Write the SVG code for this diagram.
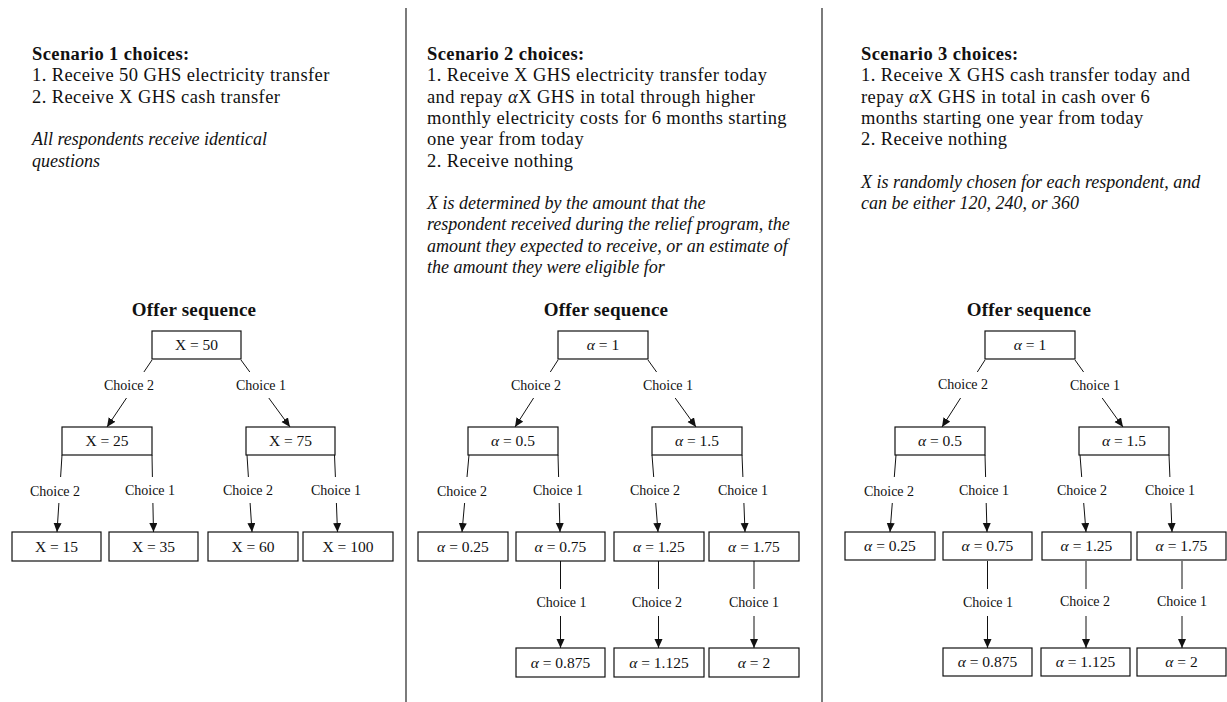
<svg xmlns="http://www.w3.org/2000/svg" width="1227" height="702" viewBox="0 0 1227 702">
<style>
  .t { font-family: "Liberation Serif", "Times New Roman", serif; fill: #111; }
  .h { font-size: 18.5px; font-weight: bold; letter-spacing: 0.4px; }
  .r { font-size: 18.5px; letter-spacing: 0.4px; }
  .it { font-size: 18px; font-style: italic; }
  .ttl { font-size: 19px; font-weight: bold; letter-spacing: 0.2px; text-anchor: middle; }
  .box rect { fill: #fff; stroke: #111; stroke-width: 1.2; }
  .box text { font-family: "Liberation Serif", "Times New Roman", serif; font-size: 15.5px; fill: #111; text-anchor: middle; }
  .g { font-style: italic; }
  .edge line { stroke: #111; stroke-width: 1; fill: none; }
  .edge line.a { marker-end: url(#arr); }
  .lbl { font-family: "Liberation Serif", "Times New Roman", serif; font-size: 14px; fill: #111; text-anchor: middle; }
  .div { stroke: #444; stroke-width: 1.4; }
</style>
<defs>
  <marker id="arr" markerUnits="userSpaceOnUse" markerWidth="10" markerHeight="9" refX="9" refY="4" orient="auto">
    <path d="M0,0 L9,4 L0,8 z" fill="#111"/>
  </marker>
</defs>
<rect x="0" y="0" width="1227" height="702" fill="#fff"/>

<g id="dividers">
  <line class="div" x1="406" y1="8" x2="406" y2="702"/>
  <line class="div" x1="822" y1="8" x2="822" y2="702"/>
</g>

<g id="panel1-text" class="t">
  <text class="h" x="32" y="60">Scenario 1 choices:</text>
  <text class="r" x="32" y="81.3">1. Receive 50 GHS electricity transfer</text>
  <text class="r" x="32" y="102.6">2. Receive X GHS cash transfer</text>
  <text class="it" x="32" y="145.2">All respondents receive identical</text>
  <text class="it" x="32" y="166.5">questions</text>
  <text class="ttl" x="194" y="316">Offer sequence</text>
</g>

<g id="panel2-text" class="t">
  <text class="h" x="427" y="60">Scenario 2 choices:</text>
  <text class="r" x="427" y="81.3">1. Receive X GHS electricity transfer today</text>
  <text class="r" x="427" y="102.6">and repay <tspan class="g">α</tspan>X GHS in total through higher</text>
  <text class="r" x="427" y="123.9">monthly electricity costs for 6 months starting</text>
  <text class="r" x="427" y="145.2">one year from today</text>
  <text class="r" x="427" y="166.5">2. Receive nothing</text>
  <text class="it" x="427" y="209.1">X is determined by the amount that the</text>
  <text class="it" x="427" y="230.4">respondent received during the relief program, the</text>
  <text class="it" x="427" y="251.7">amount they expected to receive, or an estimate of</text>
  <text class="it" x="427" y="273">the amount they were eligible for</text>
  <text class="ttl" x="606" y="316">Offer sequence</text>
</g>

<g id="panel3-text" class="t">
  <text class="h" x="861" y="60">Scenario 3 choices:</text>
  <text class="r" x="861" y="81.3">1. Receive X GHS cash transfer today and</text>
  <text class="r" x="861" y="102.6">repay <tspan class="g">α</tspan>X GHS in total in cash over 6</text>
  <text class="r" x="861" y="123.9">months starting one year from today</text>
  <text class="r" x="861" y="145.2">2. Receive nothing</text>
  <text class="it" x="861" y="187.8">X is randomly chosen for each respondent, and</text>
  <text class="it" x="861" y="209.1">can be either 120, 240, or 360</text>
  <text class="ttl" x="1029" y="316">Offer sequence</text>
</g>

<g id="connectors" class="edge">
  <!-- panel 1 -->
  <line x1="152" y1="360" x2="143.9" y2="372"/><line class="a" x1="126.5" y1="398" x2="107" y2="427"/>
  <line x1="241" y1="360" x2="249.8" y2="372"/><line class="a" x1="268.8" y1="398" x2="290" y2="427"/>
  <line x1="62" y1="455" x2="60.6" y2="477"/><line class="a" x1="58.9" y1="503" x2="57" y2="532"/>
  <line x1="152" y1="455" x2="152.4" y2="477"/><line class="a" x1="152.9" y1="503" x2="153.5" y2="532"/>
  <line x1="247" y1="455" x2="248.4" y2="477"/><line class="a" x1="250.1" y1="503" x2="252" y2="532"/>
  <line x1="334.5" y1="455" x2="335.4" y2="477"/><line class="a" x1="336.4" y1="503" x2="337.5" y2="532"/>
  <!-- panel 2 -->
  <line x1="558" y1="360" x2="550.3" y2="372"/><line class="a" x1="533.6" y1="398" x2="515" y2="427"/>
  <line x1="648" y1="360" x2="656.6" y2="372"/><line class="a" x1="675.2" y1="398" x2="696" y2="427"/>
  <line x1="469" y1="455" x2="467" y2="477"/><line class="a" x1="464.6" y1="503" x2="462" y2="532"/>
  <line x1="558" y1="455" x2="558.6" y2="477"/><line class="a" x1="559.2" y1="503" x2="560" y2="532"/>
  <line x1="652" y1="455" x2="653.7" y2="477"/><line class="a" x1="655.7" y1="503" x2="658" y2="532"/>
  <line x1="742" y1="455" x2="742.9" y2="477"/><line class="a" x1="743.9" y1="503" x2="745" y2="532"/>
  <line x1="560.5" y1="561" x2="560.5" y2="589"/><line class="a" x1="560.5" y1="616" x2="560.5" y2="648"/>
  <line x1="658.5" y1="561" x2="658.5" y2="589"/><line class="a" x1="658.5" y1="616" x2="658.5" y2="648"/>
  <line x1="754" y1="561" x2="754" y2="589"/><line class="a" x1="754" y1="616" x2="754" y2="648"/>
  <!-- panel 3 -->
  <line x1="985" y1="360" x2="977.3" y2="372"/><line class="a" x1="960.6" y1="398" x2="942" y2="427"/>
  <line x1="1075" y1="360" x2="1083.6" y2="372"/><line class="a" x1="1102.2" y1="398" x2="1123" y2="427"/>
  <line x1="896" y1="455" x2="894.3" y2="477"/><line class="a" x1="892.3" y1="503" x2="890" y2="532"/>
  <line x1="985" y1="455" x2="985.6" y2="477"/><line class="a" x1="986.2" y1="503" x2="987" y2="532"/>
  <line x1="1080" y1="455" x2="1081.7" y2="477"/><line class="a" x1="1083.7" y1="503" x2="1086" y2="532"/>
  <line x1="1169" y1="455" x2="1169.9" y2="477"/><line class="a" x1="1170.9" y1="503" x2="1172" y2="532"/>
  <line x1="987.5" y1="561" x2="987.5" y2="589"/><line class="a" x1="987.5" y1="616" x2="987.5" y2="648"/>
  <line x1="1086" y1="561" x2="1086" y2="589"/><line class="a" x1="1086" y1="616" x2="1086" y2="648"/>
  <line x1="1182" y1="561" x2="1182" y2="589"/><line class="a" x1="1182" y1="616" x2="1182" y2="648"/>

  <g id="connector-labels">
    <text class="lbl" x="129" y="389.5">Choice 2</text>
    <text class="lbl" x="261" y="389.5">Choice 1</text>
    <text class="lbl" x="55" y="495.5">Choice 2</text>
    <text class="lbl" x="150" y="495">Choice 1</text>
    <text class="lbl" x="248" y="495">Choice 2</text>
    <text class="lbl" x="336" y="495">Choice 1</text>

    <text class="lbl" x="536" y="390">Choice 2</text>
    <text class="lbl" x="668" y="390">Choice 1</text>
    <text class="lbl" x="462" y="496">Choice 2</text>
    <text class="lbl" x="558" y="495">Choice 1</text>
    <text class="lbl" x="655" y="495">Choice 2</text>
    <text class="lbl" x="743" y="495">Choice 1</text>
    <text class="lbl" x="561.5" y="607">Choice 1</text>
    <text class="lbl" x="657" y="607">Choice 2</text>
    <text class="lbl" x="754" y="607">Choice 1</text>

    <text class="lbl" x="963" y="389">Choice 2</text>
    <text class="lbl" x="1095" y="390">Choice 1</text>
    <text class="lbl" x="889" y="496">Choice 2</text>
    <text class="lbl" x="984" y="495">Choice 1</text>
    <text class="lbl" x="1082" y="495">Choice 2</text>
    <text class="lbl" x="1170" y="495">Choice 1</text>
    <text class="lbl" x="988" y="607">Choice 1</text>
    <text class="lbl" x="1085" y="606">Choice 2</text>
    <text class="lbl" x="1182" y="606">Choice 1</text>
  </g>
</g>

<!-- panel 1 nodes -->
<g id="p1-x50" class="box"><rect x="152" y="331" width="89" height="28"/><text x="196.5" y="350">X = 50</text></g>
<g id="p1-x25" class="box"><rect x="62" y="427" width="90" height="28"/><text x="107" y="446">X = 25</text></g>
<g id="p1-x75" class="box"><rect x="246" y="427" width="89" height="28"/><text x="290.5" y="446">X = 75</text></g>
<g id="p1-x15" class="box"><rect x="12" y="532" width="89" height="29"/><text x="56.5" y="551.5">X = 15</text></g>
<g id="p1-x35" class="box"><rect x="109" y="532" width="89" height="29"/><text x="153.5" y="551.5">X = 35</text></g>
<g id="p1-x60" class="box"><rect x="208" y="532" width="90" height="29"/><text x="253" y="551.5">X = 60</text></g>
<g id="p1-x100" class="box"><rect x="303" y="532" width="90" height="29"/><text x="348" y="551.5">X = 100</text></g>

<!-- panel 2 nodes -->
<g id="p2-a1" class="box"><rect x="558" y="331" width="90" height="28"/><text x="603" y="350"><tspan class="g">α</tspan> = 1</text></g>
<g id="p2-a05" class="box"><rect x="468" y="427" width="90" height="28"/><text x="513" y="446"><tspan class="g">α</tspan> = 0.5</text></g>
<g id="p2-a15" class="box"><rect x="652" y="427" width="90" height="28"/><text x="697" y="446"><tspan class="g">α</tspan> = 1.5</text></g>
<g id="p2-a025" class="box"><rect x="418" y="532" width="90" height="29"/><text x="463" y="551.5"><tspan class="g">α</tspan> = 0.25</text></g>
<g id="p2-a075" class="box"><rect x="516" y="532" width="89" height="29"/><text x="560.5" y="551.5"><tspan class="g">α</tspan> = 0.75</text></g>
<g id="p2-a125" class="box"><rect x="614" y="532" width="90" height="29"/><text x="659" y="551.5"><tspan class="g">α</tspan> = 1.25</text></g>
<g id="p2-a175" class="box"><rect x="709" y="532" width="90" height="29"/><text x="754" y="551.5"><tspan class="g">α</tspan> = 1.75</text></g>
<g id="p2-a0875" class="box"><rect x="516" y="648" width="89" height="29"/><text x="560.5" y="667.5"><tspan class="g">α</tspan> = 0.875</text></g>
<g id="p2-a1125" class="box"><rect x="614" y="648" width="90" height="29"/><text x="659" y="667.5"><tspan class="g">α</tspan> = 1.125</text></g>
<g id="p2-a2" class="box"><rect x="709" y="648" width="90" height="29"/><text x="754" y="667.5"><tspan class="g">α</tspan> = 2</text></g>

<!-- panel 3 nodes -->
<g id="p3-a1" class="box"><rect x="985" y="331" width="90" height="28"/><text x="1030" y="350"><tspan class="g">α</tspan> = 1</text></g>
<g id="p3-a05" class="box"><rect x="895" y="427" width="90" height="28"/><text x="940" y="446"><tspan class="g">α</tspan> = 0.5</text></g>
<g id="p3-a15" class="box"><rect x="1079" y="427" width="90" height="28"/><text x="1124" y="446"><tspan class="g">α</tspan> = 1.5</text></g>
<g id="p3-a025" class="box"><rect x="845" y="532" width="90" height="28"/><text x="890" y="551"><tspan class="g">α</tspan> = 0.25</text></g>
<g id="p3-a075" class="box"><rect x="943" y="532" width="89" height="28"/><text x="987.5" y="551"><tspan class="g">α</tspan> = 0.75</text></g>
<g id="p3-a125" class="box"><rect x="1042" y="532" width="89" height="28"/><text x="1086.5" y="551"><tspan class="g">α</tspan> = 1.25</text></g>
<g id="p3-a175" class="box"><rect x="1137" y="532" width="89" height="28"/><text x="1181.5" y="551"><tspan class="g">α</tspan> = 1.75</text></g>
<g id="p3-a0875" class="box"><rect x="943" y="648" width="89" height="28"/><text x="987.5" y="667"><tspan class="g">α</tspan> = 0.875</text></g>
<g id="p3-a1125" class="box"><rect x="1041" y="648" width="89" height="28"/><text x="1085.5" y="667"><tspan class="g">α</tspan> = 1.125</text></g>
<g id="p3-a2" class="box"><rect x="1137" y="648" width="89" height="28"/><text x="1181.5" y="667"><tspan class="g">α</tspan> = 2</text></g>
</svg>
